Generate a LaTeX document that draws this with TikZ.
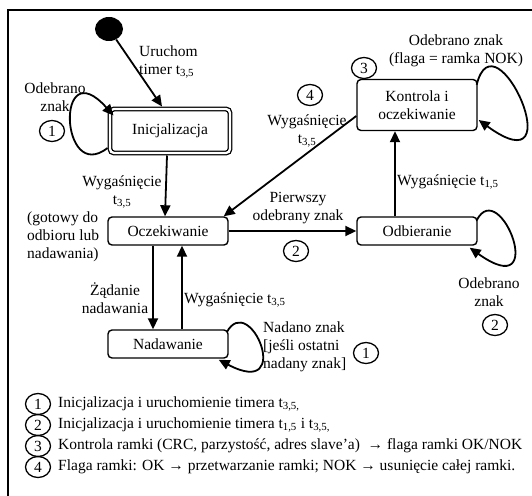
\documentclass[tikz,border=0pt]{standalone}
\usepackage{fontspec}
\setmainfont{Liberation Serif}
\usetikzlibrary{arrows.meta,shapes.geometric,calc}

\tikzset{
  stan/.style={draw, rounded corners=4pt, line width=1.4pt, minimum width=120pt, minimum height=28pt, align=center, inner sep=2pt},
  nr/.style={draw, ellipse, line width=1.3pt, inner sep=0pt, minimum width=25pt, minimum height=21pt},
  opis/.style={align=center, inner sep=0pt},
  strz/.style={line width=1.8pt, -{Triangle[length=11pt,width=10pt]}},
}

\begin{document}
\begin{tikzpicture}[x=1pt,y=-1pt,font=\fontsize{15.5}{18}\selectfont]
\useasboundingbox (0,0) rectangle (532,495);
\clip (0,0) rectangle (532,495);
\draw[line width=1.3pt] (8,10) rectangle (545,510);

\node[ellipse, fill, minimum width=28pt, minimum height=24pt, inner sep=0pt] (start) at (109,29) {};
\node[stan, double, double distance=2.3pt, line width=1.3pt, minimum height=44pt, outer sep=2.5pt] (ini) at (170,131) {Inicjalizacja};
\node[stan] (ocz) at (168,231) {Oczekiwanie};
\node[stan] (nad) at (168,344) {Nadawanie};
\node[stan] (odb) at (417,231) {Odbieranie};
\node[stan, minimum height=51pt] (kon) at (417,105) {Kontrola i\\oczekiwanie};

\draw[strz] (start) -- ([xshift=-8pt]ini.north);
\draw[strz] ($(ini.west)+(0,17)$) .. controls (60,185) and (55,50) .. ($(ini.north west)+(6,9)$);
\draw[strz] ([xshift=-3pt]ini.south) -- ([xshift=-3pt]ocz.north);
\draw[strz] ([xshift=-15pt]ocz.south) -- ([xshift=-15pt]nad.north);
\draw[strz] ([xshift=14pt]nad.north) -- ([xshift=14pt]ocz.south);
\draw[strz] ($(nad.north east)+(-2,3)$) .. controls (250,290) and (295,400) .. ($(nad.south east)+(-10,1)$);
\draw[strz] (ocz.east) -- (odb.west);
\draw[strz] ([xshift=-22pt]odb.north) -- ([xshift=-22pt]kon.south);
\draw[strz] ($(odb.north east)+(-1,4)$) .. controls (500,175) and (550,305) .. ($(odb.south east)+(-8,2)$);
\draw[strz] ($(kon.north east)+(-1,6)$) .. controls (495,10) and (575,190) .. ($(kon.east)+(1,15)$);
\draw[strz] ($(kon.west)+(0,11)$) -- ($(ocz.north east)+(-5,0)$);

\node[opis, anchor=west, align=left] (l1) at (139,62) {Uruchom\\timer t\textsubscript{3,5}};
\node[opis] (l2) at (55,97) {Odebrano\\znak};
\node[nr] (n1a) at (52,131) {1};
\node[opis] (l3) at (122,192) {Wygaśnięcie\\t\textsubscript{3,5}};
\node[opis, anchor=west, align=left] (l4) at (27,237) {(gotowy do\\odbioru lub\\nadawania)};
\node[opis] (l5) at (115,298) {Żądanie\\nadawania};
\node[opis, anchor=west] (l6) at (184,300) {Wygaśnięcie t\textsubscript{3,5}};
\node[opis, anchor=west, align=left] (l7) at (263,347) {Nadano znak\\{[}jeśli ostatni\\nadany znak]};
\node[nr] (n1b) at (366,353) {1};
\node[opis] (l8) at (298,208) {Pierwszy\\odebrany znak};
\node[nr] (n2a) at (296,251) {2};
\node[opis, anchor=west] (l9) at (397,182) {Wygaśnięcie t\textsubscript{1,5}};
\node[opis] (l10) at (489,292) {Odebrano\\znak};
\node[nr] (n2b) at (495,325) {2};
\node[opis] (l11) at (456,51) {Odebrano znak\\(flaga = ramka NOK)};
\node[nr] (n3) at (364,68) {3};
\node[nr] (n4) at (310,95) {4};
\node[opis] (l12) at (307,131) {Wygaśnięcie\\t\textsubscript{3,5}};

\node[nr] (k1) at (38,404) {1};
\node[nr] (k2) at (38,425) {2};
\node[nr] (k3) at (38,446) {3};
\node[nr] (k4) at (38,467) {4};
\node[opis, anchor=west] (t1) at (58,404) {Inicjalizacja i uruchomienie timera t\textsubscript{3,5,}};
\node[opis, anchor=west] (t2) at (58,425) {Inicjalizacja i uruchomienie timera t\textsubscript{1,5} i t\textsubscript{3,5,}};
\node[opis, anchor=west] (t3) at (58,446) {Kontrola ramki (CRC, parzystość, adres slave’a) \ → flaga ramki OK/NOK};
\node[opis, anchor=west] (t4) at (58,467) {Flaga ramki: OK → przetwarzanie ramki; NOK → usunięcie całej ramki.};
\end{tikzpicture}
\end{document}
